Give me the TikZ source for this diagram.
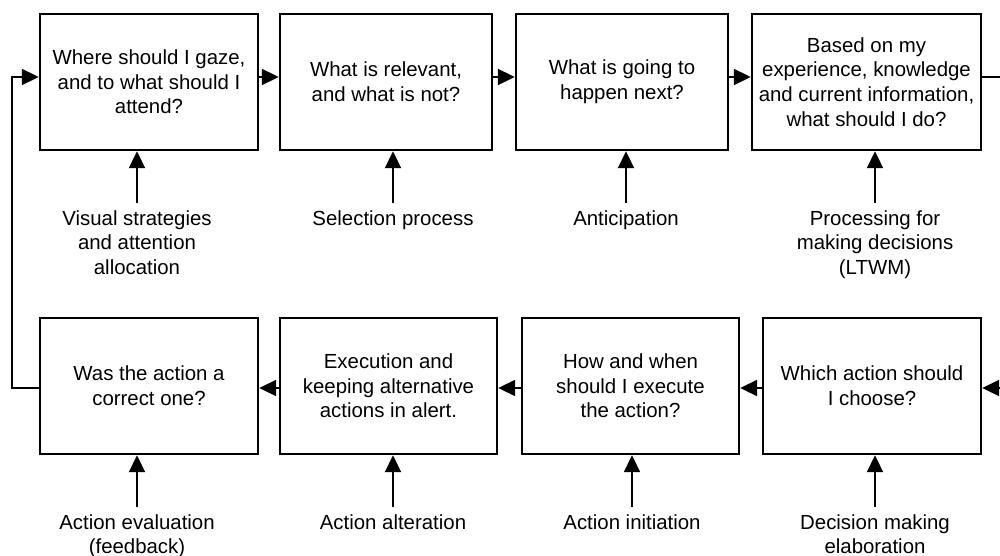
\documentclass[tikz,border=0pt]{standalone}
\usepackage{fontspec}
\setmainfont{Liberation Sans}
\usetikzlibrary{arrows.meta}
\tikzset{
	question/.style = {draw=black, line width=1.2pt, align=center, inner sep=2pt, minimum height=68pt, font=\fontsize{10.2}{12.3}\selectfont},
	process/.style = {align=center, inner sep=3.5pt, anchor=north, font=\fontsize{10.2}{12.3}\selectfont},
	link/.style = {line width=1pt, -{Triangle[length=8.5pt,width=8pt]}},
	plain/.style = {line width=1pt}
}
\begin{document}
\begin{tikzpicture}[x=0.5pt, y=-0.5pt]
	\useasboundingbox (0,0) rectangle (1000,556);
	% top row
	\node [question, minimum width=109pt] (t1) at (149,82) {Where should I gaze,\\and to what should I\\attend?};
	\node [question, minimum width=106pt] (t2) at (386,82) {What is relevant,\\and what is not?};
	\node [question, minimum width=106pt] (t3) at (622,82) {What is going to\\happen next?};
	\node [question, minimum width=114.5pt] (t4) at (866.5,82) {Based on my\\experience, knowledge\\and current information,\\what should I do?};
	% bottom row
	\node [question, minimum width=109pt] (b1) at (149,386) {Was the action a\\correct one?};
	\node [question, minimum width=108.5pt] (b2) at (388.5,386) {Execution and\\keeping alternative\\actions in alert.};
	\node [question, minimum width=108.5pt] (b3) at (630.5,386) {How and when\\should I execute\\the action?};
	\node [question, minimum width=109pt] (b4) at (872,386) {Which action should\\I choose?};
	% processes
	\node [process] (p1) at (137,203) {Visual strategies\\and attention\\allocation};
	\node [process] (p2) at (393,203) {Selection process};
	\node [process] (p3) at (626,203) {Anticipation};
	\node [process] (p4) at (875,203) {Processing for\\making decisions\\(LTWM)};
	\node [process] (p5) at (137,507) {Action evaluation\\(feedback)};
	\node [process] (p6) at (393,507) {Action alteration};
	\node [process] (p7) at (632,507) {Action initiation};
	\node [process] (p8) at (875,507) {Decision making\\elaboration};
	% flow
	\draw [link] ([yshift=2.5pt]t1.east) -- ([yshift=2.5pt]t2.west);
	\draw [link] ([yshift=2.5pt]t2.east) -- ([yshift=2.5pt]t3.west);
	\draw [link] ([yshift=2.5pt]t3.east) -- ([yshift=2.5pt]t4.west);
	\draw [link] ([yshift=-1pt]b4.west) -- ([yshift=-1pt]b3.east);
	\draw [link] ([yshift=-1pt]b3.west) -- ([yshift=-1pt]b2.east);
	\draw [link] ([yshift=-1pt]b2.west) -- ([yshift=-1pt]b1.east);
	\coordinate (loop) at (12,0);
	\coordinate (edge) at (1000,0);
	\draw [link] ([yshift=-1pt]b1.west) -| (loop |- t1.west) -- ++(0,-5) -- ([yshift=2.5pt]t1.west);
	\draw [plain] ([yshift=2.5pt]t4.east) -- ++(20,0) coordinate (rtop);
	\draw [link] ([yshift=-1pt]b4.east -| edge) -- ([yshift=-1pt]b4.east);
	\draw [link] (p1.north) -- (p1.north |- t1.south);
	\draw [link] (p2.north) -- (p2.north |- t2.south);
	\draw [link] (p3.north) -- (p3.north |- t3.south);
	\draw [link] (p4.north) -- (p4.north |- t4.south);
	\draw [link] (p5.north) -- (p5.north |- b1.south);
	\draw [link] (p6.north) -- (p6.north |- b2.south);
	\draw [link] (p7.north) -- (p7.north |- b3.south);
	\draw [link] (p8.north) -- (p8.north |- b4.south);
\end{tikzpicture}
\end{document}
